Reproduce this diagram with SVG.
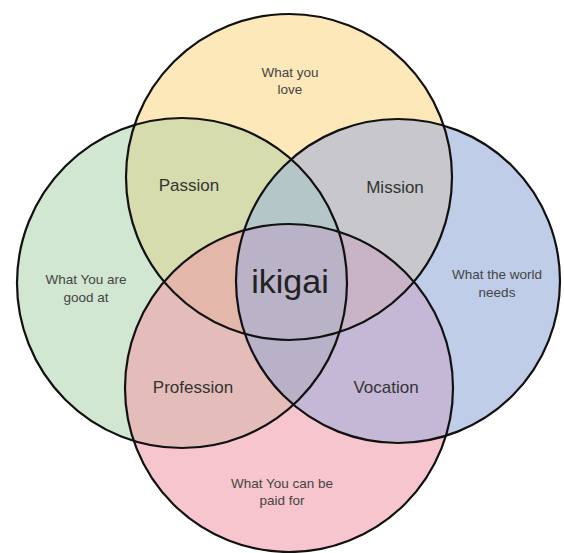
<svg xmlns="http://www.w3.org/2000/svg" width="564" height="553" viewBox="0 0 564 553">
<style>
.ring{fill:none;stroke:#111;stroke-width:2.2}
.lbl{font-family:"Liberation Sans","DejaVu Sans",sans-serif;fill:#444;text-anchor:middle;font-size:13.5px}
.ov{font-family:"Liberation Sans","DejaVu Sans",sans-serif;fill:#333;text-anchor:middle;font-size:17px}
.core{font-family:"Liberation Sans","DejaVu Sans",sans-serif;fill:#222;text-anchor:middle;font-size:34px}
</style>
<defs>
<circle id="cY" cx="289" cy="177" r="163"/>
<circle id="cG" cx="182" cy="283" r="165"/>
<circle id="cP" cx="289" cy="388" r="164"/>
<circle id="cB" cx="398" cy="281" r="162"/>
<clipPath id="kG"><use href="#cG"/></clipPath>
<clipPath id="kB"><use href="#cB"/></clipPath>
<clipPath id="kP"><use href="#cP"/></clipPath>
</defs>
<rect width="564" height="553" fill="#fff"/>
<g id="fills">
<use href="#cY" fill="#fde8b9"/>
<use href="#cG" fill="#d1e7d2"/>
<use href="#cB" fill="#bfcde8"/>
<use href="#cP" fill="#f7c5cd"/>
<g clip-path="url(#kG)"><use href="#cY" fill="#d6dcae"/></g>
<g clip-path="url(#kB)"><use href="#cY" fill="#c8c7cc"/></g>
<g clip-path="url(#kP)"><use href="#cG" fill="#e4bdba"/></g>
<g clip-path="url(#kP)"><use href="#cB" fill="#c4b8d6"/></g>
<g clip-path="url(#kG)"><g clip-path="url(#kB)"><use href="#cY" fill="#b4c6c8"/></g></g>
<g clip-path="url(#kG)"><g clip-path="url(#kP)"><use href="#cY" fill="#e3b8aa"/></g></g>
<g clip-path="url(#kB)"><g clip-path="url(#kP)"><use href="#cY" fill="#c9b3c6"/></g></g>
<g clip-path="url(#kB)"><g clip-path="url(#kP)"><use href="#cG" fill="#b9b1c8"/></g></g>
<g clip-path="url(#kG)"><g clip-path="url(#kB)"><g clip-path="url(#kP)"><use href="#cY" fill="#bab2c6"/></g></g></g>
</g>
<g id="love">
<circle class="ring" cx="289" cy="177" r="163"/>
<text class="lbl" x="290" y="77">What you</text>
<text class="lbl" x="290" y="94">love</text>
</g>
<g id="good">
<circle class="ring" cx="182" cy="283" r="165"/>
<text class="lbl" x="86" y="284">What You are</text>
<text class="lbl" x="86" y="302">good at</text>
</g>
<g id="paid">
<circle class="ring" cx="289" cy="388" r="164"/>
<text class="lbl" x="282" y="488">What You can be</text>
<text class="lbl" x="282" y="505">paid for</text>
</g>
<g id="needs">
<circle class="ring" cx="398" cy="281" r="162"/>
<text class="lbl" x="497" y="279">What the world</text>
<text class="lbl" x="497" y="297">needs</text>
</g>
<g id="passion"><text class="ov" x="189" y="191">Passion</text></g>
<g id="mission"><text class="ov" x="395" y="193">Mission</text></g>
<g id="profession"><text class="ov" x="193" y="393">Profession</text></g>
<g id="vocation"><text class="ov" x="386" y="393">Vocation</text></g>
<g id="ikigai"><text class="core" x="290" y="293">ikigai</text></g>
</svg>
